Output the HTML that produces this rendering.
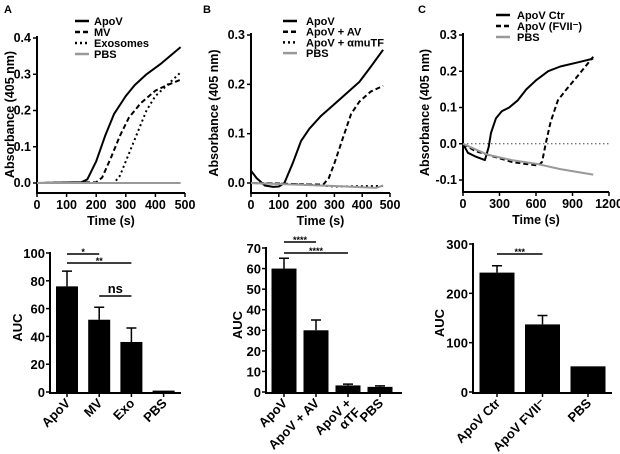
<!DOCTYPE html>
<html><head><meta charset="utf-8"><style>
html,body{margin:0;padding:0;background:#fff;}
svg{display:block;font-family:"Liberation Sans",Arial,sans-serif;}
text{font-weight:bold;fill:#000;}
</style></head><body>
<svg id="fig" width="620" height="454" viewBox="0 0 620 454"></svg>
<script>
// ---- Panel A line data ----
const aTimesApoV=[0,150,170,200,230,260,300,330,370,420,485];
const aValsApoV=[0,0.002,0.01,0.06,0.13,0.19,0.24,0.27,0.3,0.33,0.375];
const aTimesMV=[0,200,220,250,280,310,350,400,440,485];
const aValsMV=[0,0.002,0.015,0.07,0.13,0.18,0.22,0.255,0.27,0.285];
const aTimesExo=[0,260,280,310,340,370,400,440,485];
const aValsExo=[0,0,0.02,0.08,0.14,0.2,0.24,0.27,0.305];
const aTimesPBS=[0,485];
const aValsPBS=[0,0];
// ---- Panel B line data ----
const bTimesApoV=[0,20,50,80,100,120,150,180,210,250,300,350,390,430,475];
const bValsApoV=[0.025,0.01,-0.005,-0.008,-0.007,0,0.04,0.085,0.11,0.135,0.16,0.185,0.205,0.235,0.27];
const bTimesAV=[0,100,200,260,280,300,330,360,390,430,475];
const bValsAV=[0,-0.001,-0.003,-0.003,0.01,0.04,0.09,0.14,0.165,0.185,0.197];
const bTimesTF=[0,200,300,475];
const bValsTF=[0,-0.003,-0.007,-0.006];
const bTimesPBS=[0,200,300,450,475];
const bValsPBS=[0,-0.004,-0.006,-0.01,-0.005];
// ---- Panel C line data ----
const cTimesCtr=[0,40,100,180,210,230,270,320,380,450,520,600,700,800,950,1070];
const cValsCtr=[0,-0.025,-0.035,-0.045,-0.01,0.03,0.07,0.09,0.1,0.12,0.15,0.175,0.2,0.213,0.225,0.235];
const cTimesFVII=[0,100,200,300,400,500,620,650,680,720,780,850,950,1070];
const cValsFVII=[0,-0.02,-0.03,-0.04,-0.05,-0.055,-0.06,-0.05,0,0.06,0.12,0.15,0.19,0.24];
const cTimesPBS=[0,200,400,600,800,1070];
const cValsPBS=[0,-0.03,-0.045,-0.055,-0.07,-0.085];
// ---- Bar data ----
const aCats=["ApoV","MV","Exo","PBS"];
const aAUC=[76,52,36,1];
const aErr=[87,61,46,1];
const bCats=["ApoV","ApoV + AV","ApoV +|αTF","PBS"];
const bAUC=[60,30,3.2,2.5];
const bErr=[65,35,3.8,3];
const cCats=["ApoV Ctr","ApoV FVII⁻","PBS"];
const cAUC=[242,137,52];
const cErr=[256,155,52];
// tick labels
const aXTicks=[0,100,200,300,400,500];
const aYTicks=[0,0.1,0.2,0.3,0.4];
const bXTicks=[0,100,200,300,400,500];
const bYTicks=[0,0.1,0.2,0.3];
const cXTicks=[0,300,600,900,1200];
const cYTicks=[-0.1,0,0.1,0.2,0.3];
const aBarTicks=[0,20,40,60,80,100];
const bBarTicks=[0,10,20,30,40,50,60,70];
const cBarTicks=[0,100,200,300];

const svg=document.getElementById('fig');
const NS="http://www.w3.org/2000/svg";
function mk(tag,attrs,parent){const e=document.createElementNS(NS,tag);for(const k in attrs)e.setAttribute(k,attrs[k]);(parent||svg).appendChild(e);return e;}
function txt(s,x,y,size,anchor,parent,extra){const t=mk('text',Object.assign({x:x,y:y,'font-size':size,'text-anchor':anchor||'middle'},extra||{}),parent);t.textContent=s;return t;}
function lin(d0,d1,r0,r1){return v=>r0+(v-d0)*(r1-r0)/(d1-d0);}

function linePanel(o){
  const g=mk('g',{});
  
  
  const sx=lin(o.xd[0],o.xd[1],o.xr[0],o.xr[1]);
  const sy=lin(o.yd[0],o.yd[1],o.yr[0],o.yr[1]);
  const ya=mk('line',{x1:o.xr[0],y1:o.yTop,x2:o.xr[0],y2:o.axisY,stroke:'#000','stroke-width':2},g);
  
  const xa=mk('line',{x1:o.xr[0]-1,y1:o.axisY,x2:o.xr[1],y2:o.axisY,stroke:'#000','stroke-width':2},g);
  
  o.xt.forEach(v=>{const x=sx(v);mk('line',{x1:x,y1:o.axisY,x2:x,y2:o.axisY+4,stroke:'#000','stroke-width':1.5},g);
    const t=txt(String(v),x,o.axisY+16,12.5,'middle',g);});
  o.yt.forEach(v=>{const y=sy(v);mk('line',{x1:o.xr[0]-4,y1:y,x2:o.xr[0],y2:y,stroke:'#000','stroke-width':1.5},g);
    const t=txt(v.toFixed(1),o.xr[0]-6,y+4,12.5,'end',g);});
  if(o.zeroDotted){const z=mk('line',{x1:o.xr[0],y1:sy(0),x2:o.xr[1],y2:sy(0),stroke:'#444','stroke-width':1,'stroke-dasharray':'1.5,2.5'},g);
    }
  const xt=txt('Time (s)',(o.xr[0]+o.xr[1])/2,o.axisY+32,12.5,'middle',g);
  
  const cy=(o.yTop+o.axisY)/2;
  const yt=txt('Absorbance (405 nm)',o.ytx,cy,12.5,'middle',g,{transform:'rotate(-90 '+o.ytx+' '+cy+')'});
  
  o.series.forEach((s,i)=>{
    const d=s.t.map((t,j)=>(j?'L':'M')+sx(t).toFixed(1)+','+sy(s.v[j]).toFixed(1)).join(' ');
    const p=mk('path',{d:d,fill:'none',stroke:s.c,'stroke-width':s.w,'stroke-dasharray':s.dash||'none','stroke-linejoin':'round'},g);
    
    const ly=o.legY+i*o.legDy;
    const lg=mk('g',{},g);
    
    mk('line',{x1:o.legX,y1:ly,x2:o.legX+14,y2:ly,stroke:s.c,'stroke-width':s.w+0.5,'stroke-dasharray':s.dash||'none'},lg);
    txt(s.label,o.legTX,ly+4,11,'start',lg);
  });
  const L=txt(o.letter,o.lx,13,11,'start',g);
}

linePanel({name:'panel-a-line-chart',letter:'A',lx:4,xd:[0,500],xr:[37,185],yd:[0,0.4],yr:[183,38],yTop:36,axisY:193,ytx:14,
  xt:aXTicks,yt:aYTicks,legX:75,legTX:94,legY:21,legDy:11,series:[
  {key:'apov',label:'ApoV',t:aTimesApoV,v:aValsApoV,c:'#000',w:2},
  {key:'mv',label:'MV',t:aTimesMV,v:aValsMV,c:'#000',w:2,dash:'5,3'},
  {key:'exosomes',label:'Exosomes',t:aTimesExo,v:aValsExo,c:'#000',w:2,dash:'2,3'},
  {key:'pbs',label:'PBS',t:aTimesPBS,v:aValsPBS,c:'#999',w:2}]});
linePanel({name:'panel-b-line-chart',letter:'B',lx:203,xd:[0,500],xr:[251,390],yd:[0,0.3],yr:[183,35],yTop:33,axisY:193,ytx:218,
  xt:bXTicks,yt:bYTicks,legX:283,legTX:306,legY:21,legDy:10.7,series:[
  {key:'apov',label:'ApoV',t:bTimesApoV,v:bValsApoV,c:'#000',w:2},
  {key:'apov-av',label:'ApoV + AV',t:bTimesAV,v:bValsAV,c:'#000',w:2,dash:'5,3'},
  {key:'apov-amutf',label:'ApoV + αmuTF',t:bTimesTF,v:bValsTF,c:'#000',w:2,dash:'2,3'},
  {key:'pbs',label:'PBS',t:bTimesPBS,v:bValsPBS,c:'#999',w:2}]});
linePanel({name:'panel-c-line-chart',letter:'C',lx:418,xd:[0,1200],xr:[463,609],yd:[-0.1,0.3],yr:[180,35],yTop:33,axisY:192,ytx:429,zeroDotted:true,
  xt:cXTicks,yt:cYTicks,legX:496,legTX:517,legY:15,legDy:11,series:[
  {key:'apov-ctr',label:'ApoV Ctr',t:cTimesCtr,v:cValsCtr,c:'#000',w:2},
  {key:'apov-fvii',label:'ApoV (FVII⁻)',t:cTimesFVII,v:cValsFVII,c:'#000',w:2,dash:'5,3'},
  {key:'pbs',label:'PBS',t:cTimesPBS,v:cValsPBS,c:'#999',w:2}]});

function barPanel(o){
  const g=mk('g',{});
  
  
  const sy=lin(o.yd[0],o.yd[1],o.yr[0],o.yr[1]);
  const n=o.cats.length;
  const xc=i=>o.x0+i*o.step;
  o.vals.forEach((v,i)=>{
    const b=mk('rect',{x:xc(i)-o.bw/2,y:sy(v),width:o.bw,height:o.yr[0]-sy(v),fill:'#000'},g);
    
    if(o.err[i]>v){const e=mk('path',{d:'M'+xc(i)+','+sy(v)+' V'+sy(o.err[i])+' M'+(xc(i)-5)+','+sy(o.err[i])+' H'+(xc(i)+5),stroke:'#000','stroke-width':1.5,fill:'none'},g);
      }
    const parts=o.cats[i].split('|');
    const lx=xc(i)+4,ly=o.yr[0]+12;
    const t=mk('text',{x:lx,y:ly,'font-size':13,'text-anchor':'end',transform:'rotate(-45 '+lx+' '+ly+')'},g);
    parts.forEach((p,k)=>{const ts=mk('tspan',{x:lx,dy:k?13:0},t);ts.textContent=p;});
    
  });
  const ya=mk('line',{x1:o.ax,y1:o.yr[1]-1,x2:o.ax,y2:o.yr[0]+1,stroke:'#000','stroke-width':2},g);
  
  const xa=mk('line',{x1:o.ax-1,y1:o.yr[0]+1,x2:o.xEnd,y2:o.yr[0]+1,stroke:'#000','stroke-width':2},g);
  
  o.ticks.forEach(v=>{const y=sy(v);mk('line',{x1:o.ax-4,y1:y,x2:o.ax,y2:y,stroke:'#000','stroke-width':1.5},g);
    const t=txt(String(v),o.ax-5,y+5,13,'end',g);});
  for(let i=0;i<n;i++){mk('line',{x1:xc(i),y1:o.yr[0]+1,x2:xc(i),y2:o.yr[0]+5,stroke:'#000','stroke-width':1.5},g);}
  const cy=(o.yr[0]+o.yr[1])/2+5;
  const yt=txt('AUC',o.ytx,cy,13,'middle',g,{transform:'rotate(-90 '+o.ytx+' '+cy+')'});
  
  o.sig.forEach(s=>{
    const l=mk('line',{x1:xc(s[0]),y1:s[2],x2:xc(s[1]),y2:s[2],stroke:'#000','stroke-width':1.5},g);
    
    const t=txt(s[3],(xc(s[0])+xc(s[1]))/2,s[3]==='ns'?s[2]-3:s[2]+1,s[3]==='ns'?13:9,'middle',g);
    
  });
}
barPanel({name:'panel-a-bar-chart',cats:aCats,keys:['apov','mv','exo','pbs'],vals:aAUC,err:aErr,yd:[0,100],yr:[392,253],ax:50,xEnd:181,x0:67,step:32.2,bw:22,ticks:aBarTicks,ytx:22,
  sig:[[0,1,254,'*'],[0,2,263,'**'],[1,2,296,'ns']]});
barPanel({name:'panel-b-bar-chart',cats:bCats,keys:['apov','apov-av','apov-atf','pbs'],vals:bAUC,err:bErr,yd:[0,70],yr:[392,248],ax:266,xEnd:402,x0:284,step:32,bw:25,ticks:bBarTicks,ytx:242,
  sig:[[0,1,242,'****'],[0,2,253,'****']]});
barPanel({name:'panel-c-bar-chart',cats:cCats,keys:['apov-ctr','apov-fvii','pbs'],vals:cAUC,err:cErr,yd:[0,300],yr:[392,244],ax:473,xEnd:612,x0:497,step:45.5,bw:35,ticks:cBarTicks,ytx:444,
  sig:[[0,1,254,'***']]});
</script>
</body></html>
